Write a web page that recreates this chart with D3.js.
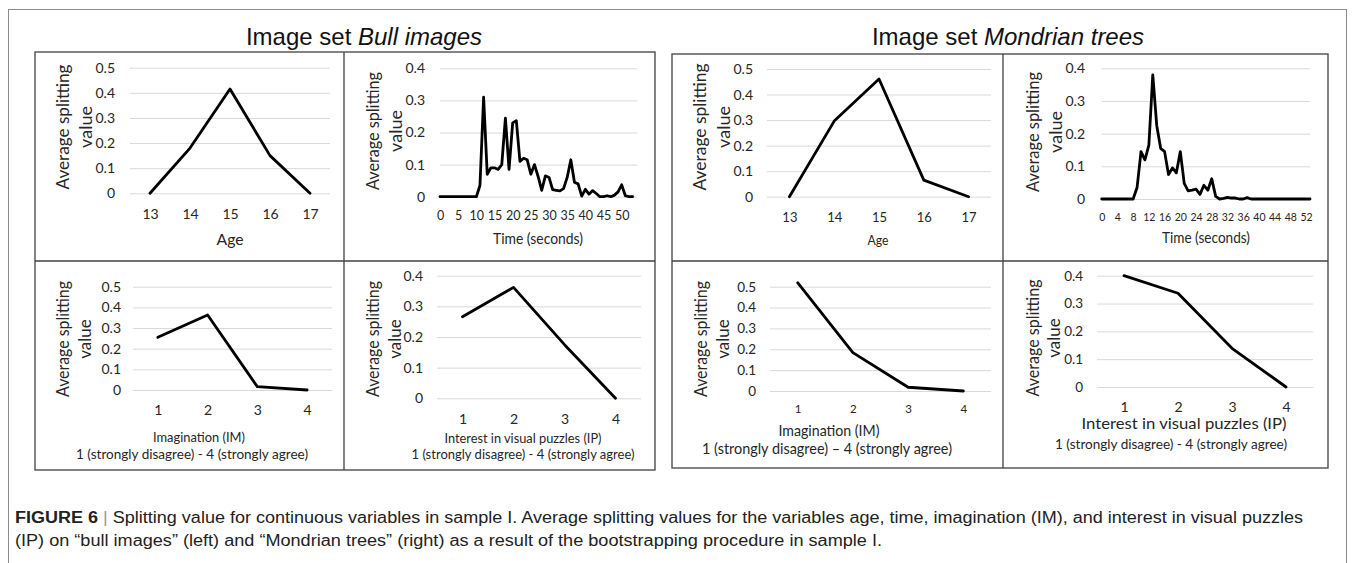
<html>
<head>
<meta charset="utf-8">
<script src="https://d3js.org/d3.v7.min.js"></script>
<style>
  body { margin: 0; background: #fff; }
</style>
</head>
<body>
<div id="my_dataviz"></div>
<script>
// ---------- data ----------
const ageCats = [13, 14, 15, 16, 17];
const bullAge = [0, 0.18, 0.415, 0.15, 0];
const mondAge = [0, 0.296, 0.461, 0.065, 0];

// one value per second, 0..53
const bullTime = [0,0,0,0,0,0,0,0,0,0,0,
  0.035,0.31,0.07,0.09,0.09,0.085,0.1,0.245,0.085,0.23,0.237,0.11,0.12,0.115,0.07,0.1,0.063,0.02,
  0.065,0.06,0.022,0.02,0.018,0.025,0.06,0.115,0.045,0.04,0.002,0.023,0.008,0.019,0.01,0,0,
  0.003,0,0.005,0.015,0.037,0.003,0,0];
const mondTime = [0,0,0,0,0,0,0,0,0,
  0.035,0.145,0.12,0.165,0.38,0.225,0.155,0.145,0.075,0.095,0.08,0.145,0.048,0.025,0.027,0.03,
  0.014,0.042,0.027,0.062,0.008,0,0.002,0.005,0.003,0.003,0,0,0.004,
  0,0,0,0,0,0,0,0,0,0,0,0,0,0,0,0];
const bullTimeTicks = [0, 5, 10, 15, 20, 25, 30, 35, 40, 45, 50];
const mondTimeTicks = [0, 4, 8, 12, 16, 20, 24, 28, 32, 36, 40, 44, 48, 52];

const likertCats = [1, 2, 3, 4];
const bullIM = [0.255, 0.363, 0.016, 0];
const bullIP = [0.266, 0.362, 0.175, 0];
const mondIM = [0.519, 0.184, 0.018, 0];
const mondIP = [0.4, 0.337, 0.139, 0];

const yTicks05 = [0, 0.1, 0.2, 0.3, 0.4, 0.5];
const yTicks04 = [0, 0.1, 0.2, 0.3, 0.4];

const likertText = "1 (strongly disagree) - 4 (strongly agree)";
const likertTextDash = "1 (strongly disagree) \u2013 4 (strongly agree)";

// ---------- svg ----------
const svg = d3.select("#my_dataviz")
  .append("svg")
  .attr("width", 1356)
  .attr("height", 563);

const chartFont = "Lato, 'Open Sans', sans-serif";

// outer figure frame
svg.append("rect")
  .attr("x", 8.5).attr("y", 9.5)
  .attr("width", 1338).attr("height", 570)
  .attr("fill", "none").attr("stroke", "#8c8c8c").attr("stroke-width", 1);

// panel group boxes
function groupBox(x0, y0, x1, y1, xm, ym) {
  const g = svg.append("g").attr("fill", "none").attr("stroke", "#404040").attr("stroke-width", 1.3);
  g.append("rect").attr("x", x0).attr("y", y0).attr("width", x1 - x0).attr("height", y1 - y0);
  g.append("line").attr("x1", xm).attr("x2", xm).attr("y1", y0).attr("y2", y1);
  g.append("line").attr("x1", x0).attr("x2", x1).attr("y1", ym).attr("y2", ym);
}
groupBox(35, 52, 655, 470, 344, 261);
groupBox(672, 54, 1328, 468, 1003, 261);

// set titles
function setTitle(cx, plain, ital) {
  const t = svg.append("text")
    .attr("x", cx).attr("y", 45)
    .attr("text-anchor", "middle")
    .attr("font-family", "'Liberation Sans', Arial, sans-serif")
    .attr("font-size", 24)
    .attr("fill", "#111");
  t.append("tspan").text(plain);
  t.append("tspan").attr("font-style", "italic").text(ital);
}
setTitle(364, "Image set ", "Bull images");
setTitle(1008, "Image set ", "Mondrian trees");

// ---------- panels ----------
const panels = [
  { cats: ageCats, vals: bullAge, yMax: 0.5, yTicks: yTicks05,
    x0: 130, x1: 330, y0: 193.3, yTop: 67.7, tickRight: 115, tickFs: 14, xTickY: 214, xTickFs: 14,
    xTitles: [{ t: "Age", x: 230, y: 238, fs: 16, len: 27 }],
    yt: { x: [62, 85], y: 127, fs: 18, len: 125 } },
  { times: true, vals: bullTime, xTicks: bullTimeTicks, yMax: 0.4, yTicks: yTicks04,
    x0: 440, x1: 632.6, gx1: 637, y0: 196.7, yTop: 68.3, tickRight: 425, tickFs: 14, xTickY: 216, xTickFs: 12.5,
    xTitles: [{ t: "Time (seconds)", x: 538, y: 238, fs: 14.5, len: 90 }],
    yt: { x: [372, 395], y: 131, fs: 18, len: 118 } },
  { cats: ageCats, vals: mondAge, yMax: 0.5, yTicks: yTicks05,
    x0: 767, x1: 991, y0: 196.7, yTop: 69, tickRight: 753, tickFs: 14, xTickY: 217, xTickFs: 13,
    xTitles: [{ t: "Age", x: 878, y: 240, fs: 13.5, len: 21 }],
    yt: { x: [699, 723], y: 127, fs: 18, len: 127 } },
  { times: true, vals: mondTime, xTicks: mondTimeTicks, yMax: 0.4, yTicks: yTicks04,
    x0: 1101.7, x1: 1310, gx1: 1310, y0: 199, yTop: 68.3, tickRight: 1085, tickFs: 14, xTickY: 217, xTickFs: 10.5,
    xTitles: [{ t: "Time (seconds)", x: 1206, y: 237, fs: 14.5, len: 88 }],
    yt: { x: [1032, 1055], y: 132, fs: 18, len: 120 } },
  { cats: likertCats, vals: bullIM, yMax: 0.5, yTicks: yTicks05,
    x0: 133, x1: 332, y0: 390, yTop: 286.7, tickRight: 121, tickFs: 14, xTickY: 410, xTickFs: 14,
    xTitles: [{ t: "Imagination (IM)", x: 199, y: 437, fs: 13.5, len: 92 },
              { t: likertText, x: 192, y: 454, fs: 13.5, len: 232 }],
    yt: { x: [62, 84], y: 339, fs: 17, len: 116 } },
  { cats: likertCats, vals: bullIP, yMax: 0.4, yTicks: yTicks04,
    x0: 437, x1: 641, y0: 398.3, yTop: 275.7, tickRight: 423, tickFs: 14, xTickY: 419, xTickFs: 14,
    xTitles: [{ t: "Interest in visual puzzles (IP)", x: 523, y: 438, fs: 13.5, len: 157 },
              { t: likertText, x: 523, y: 454, fs: 13.5, len: 223 }],
    yt: { x: [372, 394], y: 339, fs: 17, len: 116 } },
  { cats: likertCats, vals: mondIM, yMax: 0.5, yTicks: yTicks05,
    x0: 770, x1: 991, y0: 391, yTop: 286.7, tickRight: 756, tickFs: 13.5, xTickY: 409, xTickFs: 11.5,
    xTitles: [{ t: "Imagination (IM)", x: 829, y: 430, fs: 15, len: 101 },
              { t: likertTextDash, x: 827, y: 448, fs: 15, len: 250 }],
    yt: { x: [700, 722], y: 339, fs: 17, len: 116 } },
  { cats: likertCats, vals: mondIP, yMax: 0.4, yTicks: yTicks04,
    x0: 1097, x1: 1313, y0: 387, yTop: 275.7, tickRight: 1083, tickFs: 13.5, xTickY: 407, xTickFs: 14,
    xTitles: [{ t: "Interest in visual puzzles (IP)", x: 1184, y: 423, fs: 15, len: 205 },
              { t: likertText, x: 1171, y: 443, fs: 14, len: 232 }],
    yt: { x: [1032, 1053], y: 338, fs: 17, len: 117 } }
];

panels.forEach(function(p) {
  const g = svg.append("g");
  const gx1 = p.gx1 || p.x1;

  const y = d3.scaleLinear().domain([0, p.yMax]).range([p.y0, p.yTop]);
  let x, xAxis, linePts;
  if (p.times) {
    x = d3.scaleLinear().domain([0, p.vals.length - 1]).range([p.x0, p.x1]);
    xAxis = d3.axisBottom(x).tickValues(p.xTicks).tickFormat(d => d);
    linePts = p.vals.map((v, i) => [x(i), y(v)]);
  } else {
    x = d3.scalePoint().domain(p.cats).range([p.x0, p.x1]).padding(0.5);
    xAxis = d3.axisBottom(x);
    linePts = p.vals.map((v, i) => [x(p.cats[i]), y(v)]);
  }

  // gridlines
  g.append("g")
    .attr("transform", `translate(${p.x0},0)`)
    .call(d3.axisLeft(y).tickValues(p.yTicks).tickSize(-(gx1 - p.x0)).tickFormat(""))
    .call(a => a.select(".domain").remove())
    .selectAll("line").attr("stroke", "#d9d9d9").attr("stroke-width", 1);

  // y tick labels
  g.append("g")
    .attr("transform", `translate(${p.x0},0)`)
    .call(d3.axisLeft(y).tickValues(p.yTicks).tickSize(0).tickPadding(p.x0 - p.tickRight).tickFormat(d => d))
    .call(a => a.select(".domain").remove())
    .attr("font-family", chartFont)
    .attr("font-size", p.tickFs)
    .selectAll("text").attr("fill", "#262626");

  // x tick labels
  g.append("g")
    .attr("transform", `translate(0,${p.y0})`)
    .call(xAxis.tickSize(0).tickPadding(p.xTickY - p.y0 - 0.36 * p.xTickFs))
    .call(a => a.select(".domain").remove())
    .attr("font-family", chartFont)
    .attr("font-size", p.xTickFs)
    .selectAll("text").attr("fill", "#262626");

  // the data line
  g.append("path")
    .attr("d", d3.line()(linePts))
    .attr("fill", "none")
    .attr("stroke", "#000")
    .attr("stroke-width", 2.8)
    .attr("stroke-linejoin", "round")
    .attr("stroke-linecap", "round");

  // x titles
  p.xTitles.forEach(function(t) {
    g.append("text")
      .attr("x", t.x).attr("y", t.y)
      .attr("text-anchor", "middle")
      .attr("dominant-baseline", "central")
      .attr("font-family", chartFont)
      .attr("font-size", t.fs)
      .attr("fill", "#262626")
      .attr("textLength", t.len)
      .attr("lengthAdjust", "spacingAndGlyphs")
      .text(t.t);
  });

  // y title (two lines, rotated)
  ["Average splitting", "value"].forEach(function(s, i) {
    const txt = g.append("text")
      .attr("transform", `translate(${p.yt.x[i]},${p.yt.y}) rotate(-90)`)
      .attr("text-anchor", "middle")
      .attr("dominant-baseline", "central")
      .attr("font-family", chartFont)
      .attr("font-size", p.yt.fs)
      .attr("fill", "#262626")
      .text(s);
    if (i === 0) txt.attr("textLength", p.yt.len).attr("lengthAdjust", "spacingAndGlyphs");
  });
});

// ---------- caption ----------
const capFont = "'Liberation Sans', Arial, sans-serif";
const cap1 = svg.append("text")
  .attr("x", 15).attr("y", 523)
  .attr("font-family", capFont).attr("font-size", 16).attr("fill", "#222")
  .attr("textLength", 1288).attr("lengthAdjust", "spacingAndGlyphs");
cap1.append("tspan").attr("font-weight", "bold").text("FIGURE 6");
cap1.append("tspan").attr("fill", "#999").text(" | ");
cap1.append("tspan").text("Splitting value for continuous variables in sample I. Average splitting values for the variables age, time, imagination (IM), and interest in visual puzzles");

svg.append("text")
  .attr("x", 15).attr("y", 546)
  .attr("font-family", capFont).attr("font-size", 16).attr("fill", "#222")
  .attr("textLength", 867).attr("lengthAdjust", "spacingAndGlyphs")
  .text("(IP) on \u201cbull images\u201d (left) and \u201cMondrian trees\u201d (right) as a result of the bootstrapping procedure in sample I.");
</script>
</body>
</html>
